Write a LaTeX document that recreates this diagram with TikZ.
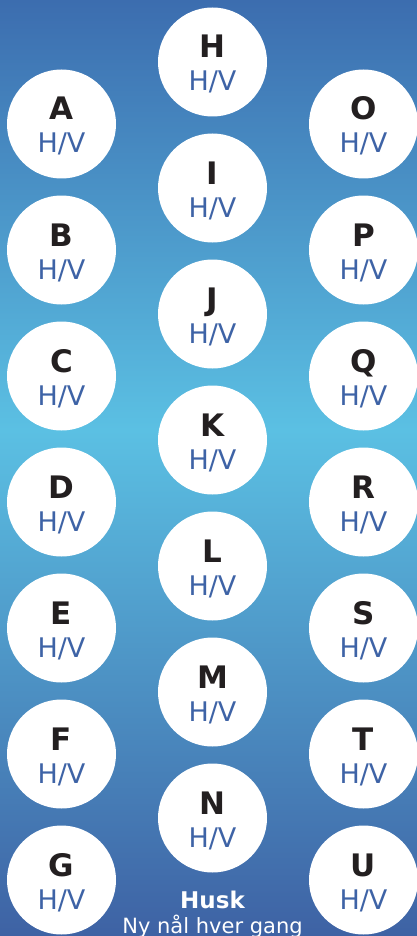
\documentclass[tikz,border=0pt]{standalone}
\usepackage{fontspec}
\setmainfont{DejaVu Sans}
\usetikzlibrary{calc}
\definecolor{bgtop}{HTML}{3C6DAF}
\definecolor{bgmid}{HTML}{5BC0E3}
\definecolor{bgbot}{HTML}{3E62A4}
\definecolor{inkblack}{HTML}{231F20}
\definecolor{hvblue}{HTML}{3E63A6}
\tikzset{
  disc/.style={circle, fill=white, minimum size=109pt, inner sep=0pt},
  bigletter/.style={anchor=base, inner sep=0pt, text=inkblack, font=\fontsize{31}{31}\selectfont\bfseries},
  hvtext/.style={anchor=base, inner sep=0pt, text=hvblue, font=\fontsize{27}{27}\selectfont},
  notetext/.style={anchor=base, inner sep=0pt, text=white}
}
\begin{document}
\begin{tikzpicture}[x=1pt,y=-1pt]
\useasboundingbox (0,0) rectangle (417,936);
\begin{scope}
\clip (0,0) rectangle (417,936);
\shade[top color=bgtop, bottom color=bgmid] (0,0) rectangle (417,430);
\shade[top color=bgmid, bottom color=bgbot] (0,429.5) rectangle (417,936);
\foreach \L [count=\i from 0] in {A,B,C,D,E,F,G} {
  \node[disc] (\L) at (61.5,124+126*\i) {};
  \node[bigletter] (\L l) at ($(\L)+(0,-4)$) {\L};
  \node[hvtext] (\L hv) at ($(\L)+(0,29)$) {H/V};
}
\foreach \L [count=\i from 0] in {H,I,J,K,L,M,N} {
  \node[disc] (\L) at (212.5,62+126*\i) {};
  \node[bigletter] (\L l) at ($(\L)+(0,-4)$) {\L};
  \node[hvtext] (\L hv) at ($(\L)+(0,29)$) {H/V};
}
\foreach \L [count=\i from 0] in {O,P,Q,R,S,T,U} {
  \node[disc] (\L) at (363.5,124+126*\i) {};
  \node[bigletter] (\L l) at ($(\L)+(0,-4)$) {\L};
  \node[hvtext] (\L hv) at ($(\L)+(0,29)$) {H/V};
}
\node[notetext, font=\fontsize{23}{23}\selectfont\bfseries] (husk) at (212.5,908) {Husk};
\node[notetext, font=\fontsize{21}{21}\selectfont] (ny) at (212.5,933) {Ny nål hver gang};
\end{scope}
\end{tikzpicture}
\end{document}
